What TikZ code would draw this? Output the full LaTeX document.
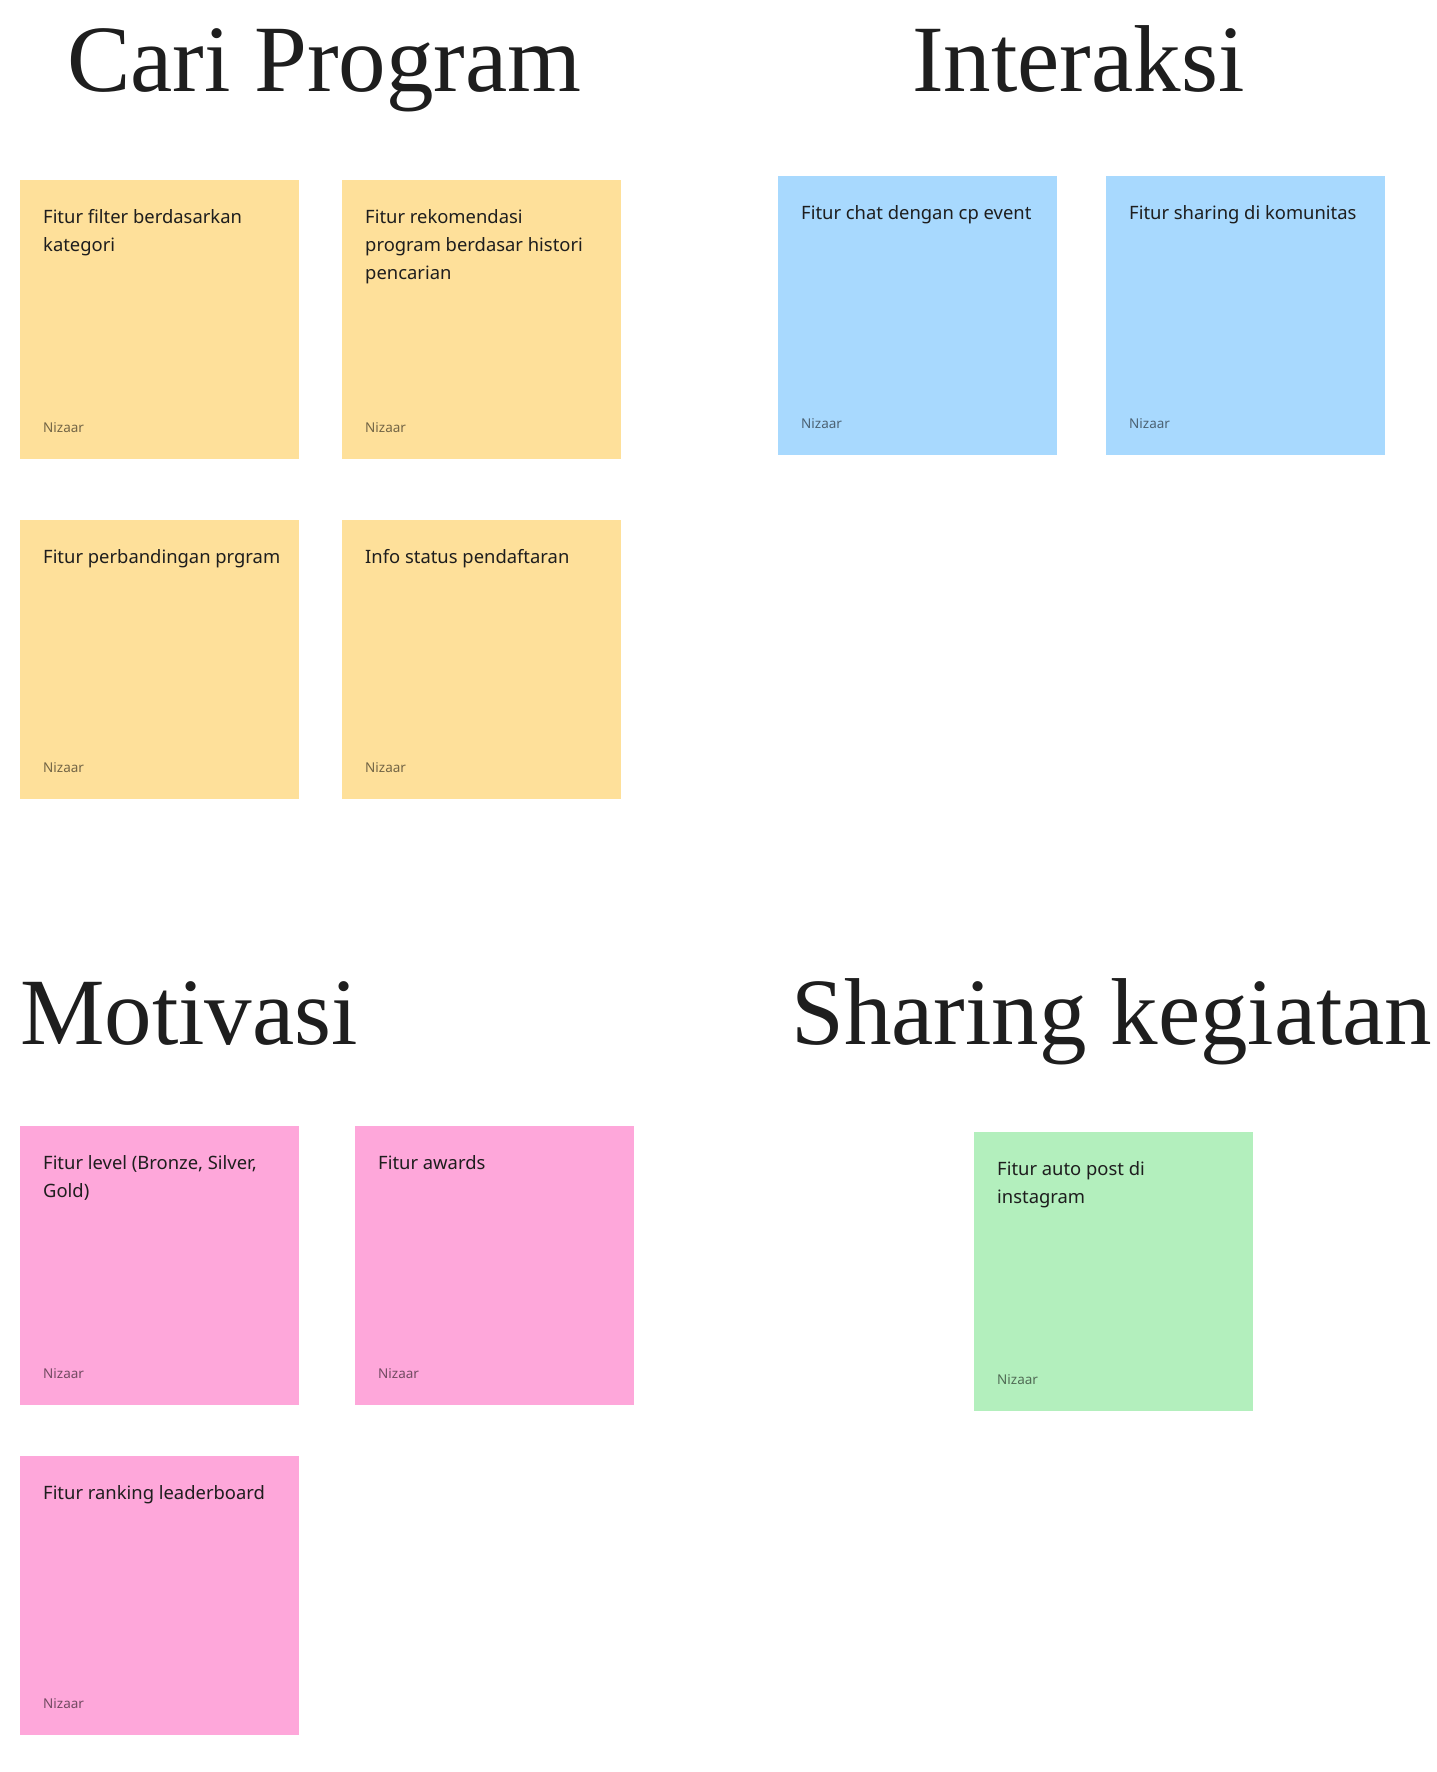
\documentclass[tikz,border=0pt]{standalone}
\usepackage{fontspec}
\setmainfont{Liberation Serif}
\newfontfamily\bodyfont{Noto Sans}
\usetikzlibrary{calc,backgrounds}
\definecolor{stYellow}{HTML}{FEE09A}
\definecolor{stBlue}{HTML}{A8D9FE}
\definecolor{stPink}{HTML}{FEA7DA}
\definecolor{stGreen}{HTML}{B3EFBD}
\definecolor{ink}{HTML}{1E1E1E}
\begin{document}
\begin{tikzpicture}[x=1pt,y=-1pt,
  sticky/.style={anchor=north west, minimum width=279pt, minimum height=279pt, inner sep=0pt, outer sep=0pt, draw=none},
  title/.style={anchor=base west, inner sep=0pt, font=\fontsize{95}{95}\selectfont, text=ink},
  body/.style={anchor=north west, inner sep=0pt, align=left, font=\bodyfont\fontsize{18.4}{28}\selectfont, text=ink},
  author/.style={anchor=base west, inner sep=0pt, font=\bodyfont\fontsize{13.5}{13.5}\selectfont, text=black, text opacity=0.55},
]
\useasboundingbox[fill=white] (0,0) rectangle (1436,1772);

% titles
\node[title] (t1) at (67,91) {Cari Program};
\node[title] (t2) at (912,91) {Interaksi};
\node[title] (t3) at (20,1044) {Motivasi};
\node[title] (t4) at (791,1044) {Sharing kegiatan};

% stickies
\node[sticky, fill=stYellow] (y1) at (20,180) {};
\node[sticky, fill=stYellow] (y2) at (342,180) {};
\node[sticky, fill=stYellow] (y3) at (20,520) {};
\node[sticky, fill=stYellow] (y4) at (342,520) {};
\node[sticky, fill=stBlue] (b1) at (778,176) {};
\node[sticky, fill=stBlue] (b2) at (1106,176) {};
\node[sticky, fill=stPink] (p1) at (20,1126) {};
\node[sticky, fill=stPink] (p2) at (355,1126) {};
\node[sticky, fill=stPink] (p3) at (20,1456) {};
\node[sticky, fill=stGreen] (g1) at (974,1132) {};

% texts
\node[body] (y1t) at ($(y1.north west)+(23,29)$) {\rule{0pt}{14pt}Fitur filter berdasarkan\\kategori};
\node[body] (y2t) at ($(y2.north west)+(23,29)$) {\rule{0pt}{14pt}Fitur rekomendasi\\program berdasar histori\\pencarian};
\node[body] (y3t) at ($(y3.north west)+(23,29)$) {\rule{0pt}{14pt}Fitur perbandingan prgram};
\node[body] (y4t) at ($(y4.north west)+(23,29)$) {\rule{0pt}{14pt}Info status pendaftaran};
\node[body] (b1t) at ($(b1.north west)+(23,29)$) {\rule{0pt}{14pt}Fitur chat dengan cp event};
\node[body] (b2t) at ($(b2.north west)+(23,29)$) {\rule{0pt}{14pt}Fitur sharing di komunitas};
\node[body] (p1t) at ($(p1.north west)+(23,29)$) {\rule{0pt}{14pt}Fitur level (Bronze, Silver,\\Gold)};
\node[body] (p2t) at ($(p2.north west)+(23,29)$) {\rule{0pt}{14pt}Fitur awards};
\node[body] (p3t) at ($(p3.north west)+(23,29)$) {\rule{0pt}{14pt}Fitur ranking leaderboard};
\node[body] (g1t) at ($(g1.north west)+(23,29)$) {\rule{0pt}{14pt}Fitur auto post di\\instagram};

\foreach \n in {y1,y2,y3,y4,b1,b2,p1,p2,p3,g1}{
  \node[author] (\n a) at ($(\n.north west)+(23,252)$) {Nizaar};
}

\begin{scope}[on background layer]
\foreach \n in {y1,y2,y3,y4,b1,b2,p1,p2,p3,g1}{
  \foreach \i in {0,...,9}{
    \fill[black,opacity=0.018] ($(\n.north west)+(-\i,6-0.5*\i)$) rectangle ($(\n.south east)+(\i,6+1.5*\i)$);
  }
}
\end{scope}
\end{tikzpicture}
\end{document}
